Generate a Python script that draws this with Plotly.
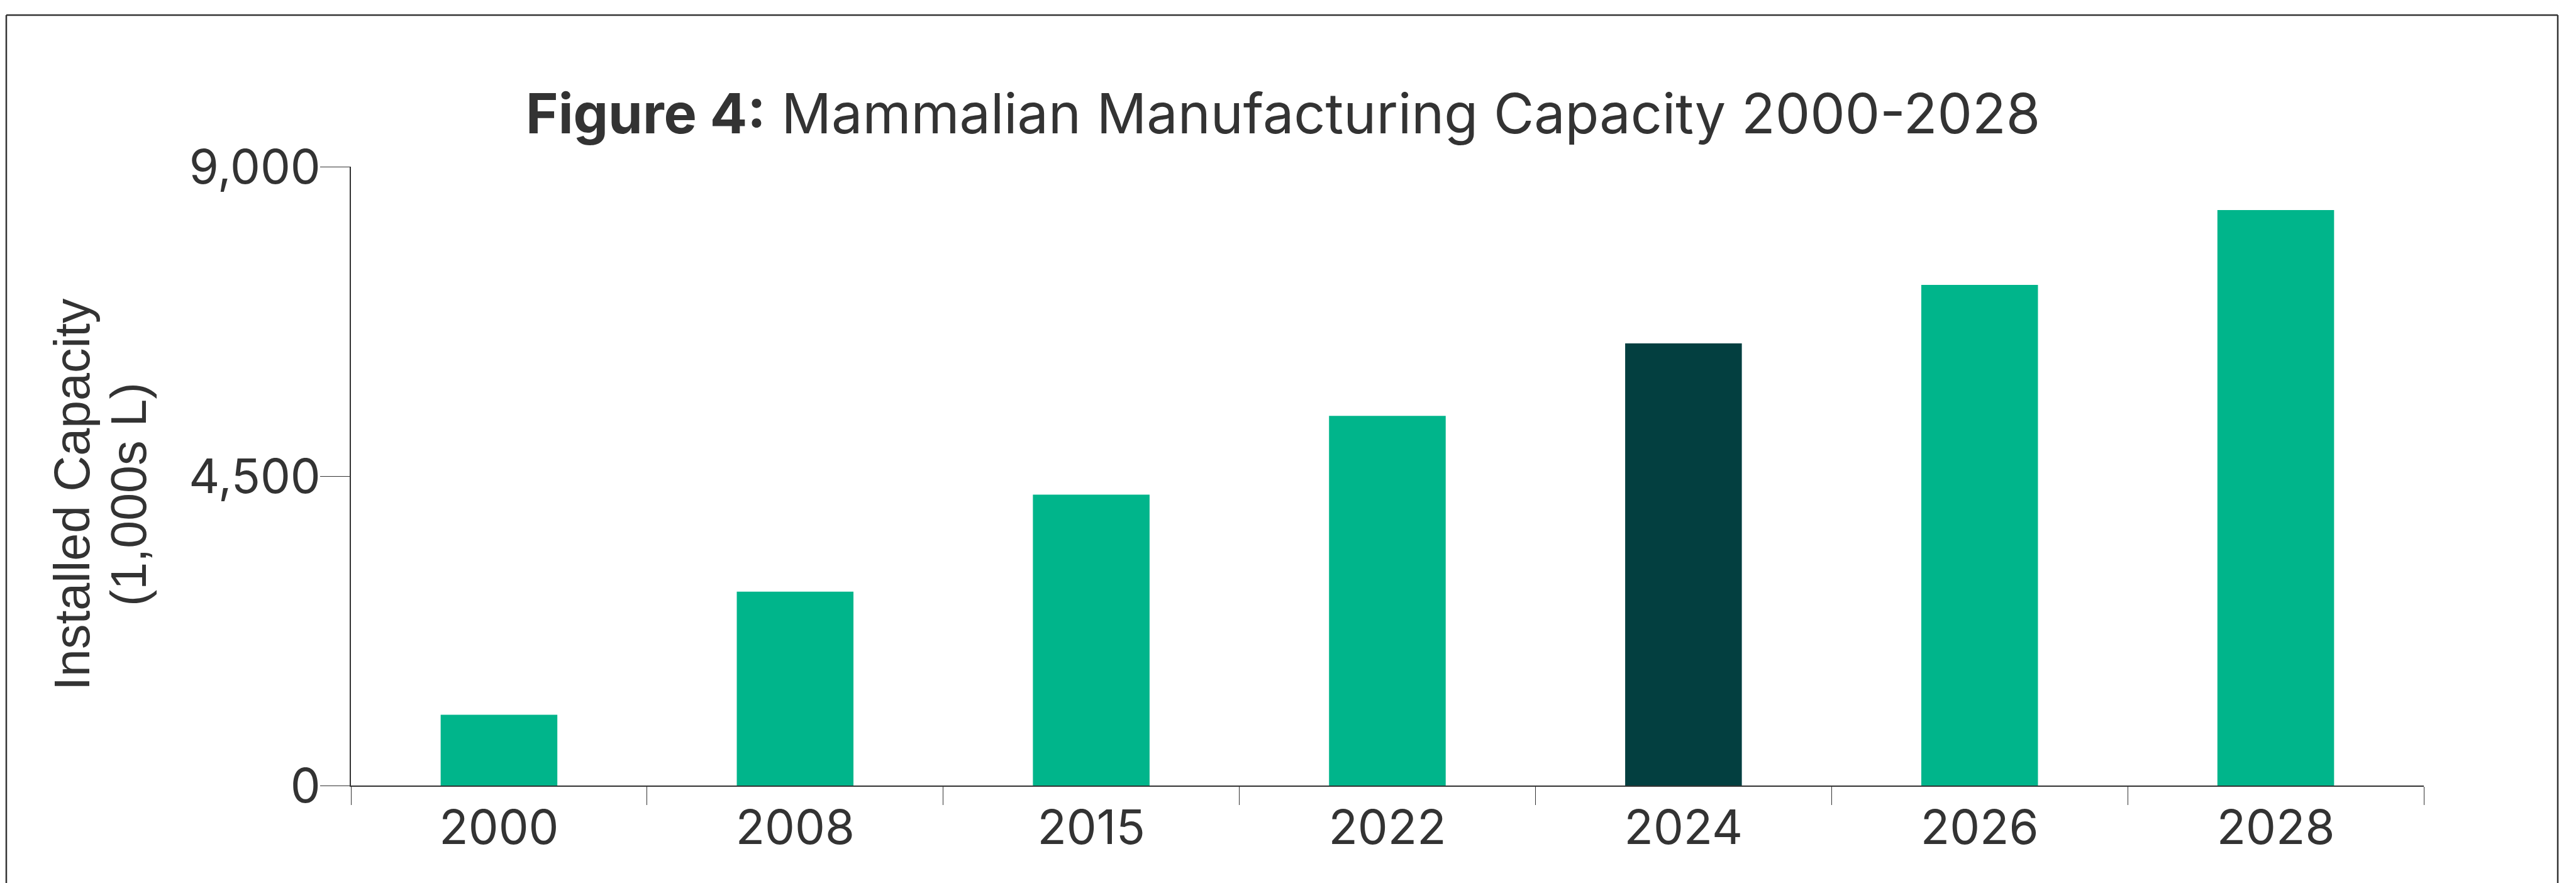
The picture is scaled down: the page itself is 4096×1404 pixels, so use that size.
import plotly.graph_objects as go

# Installed mammalian manufacturing capacity, thousands of litres
years = ["2000", "2008", "2015", "2022", "2024", "2026", "2028"]
capacity = [1030, 2820, 4230, 5375, 6430, 7280, 8370]
bar_colors = ["#00B58B", "#00B58B", "#00B58B", "#00B58B", "#033F40", "#00B58B", "#00B58B"]
y_ticks = [0, 4500, 9000]

W, H = 4096, 1404
ML, MR, MT, MB = 558, 242, 265, 155
PW, PH = W - ML - MR, H - MT - MB
TEXT = "#333333"


def px_x(p):
    return (p - ML) / PW


def px_y(p):
    return (H - MB - p) / PH


fig = go.Figure(
    go.Bar(
        x=years,
        y=capacity,
        marker=dict(color=bar_colors, line=dict(width=0)),
        hoverinfo="x+y",
    )
)

fig.update_layout(
    width=W,
    height=H,
    margin=dict(l=ML, r=MR, t=MT, b=MB, pad=0),
    paper_bgcolor="white",
    plot_bgcolor="white",
    showlegend=False,
    bargap=0.606,
    font=dict(family="Inter", color=TEXT, size=76),
)

fig.update_xaxes(
    type="category",
    showgrid=False,
    showline=True,
    linecolor=TEXT,
    linewidth=2.2,
    ticks="outside",
    tickson="boundaries",
    ticklen=29,
    tickwidth=1.4,
    tickcolor=TEXT,
    tickfont=dict(family="Inter", size=76, color=TEXT),
)

fig.update_yaxes(
    range=[0, 9000],
    tickvals=y_ticks,
    tickformat=",",
    showgrid=False,
    zeroline=False,
    showline=True,
    linecolor=TEXT,
    linewidth=2,
    ticks="outside",
    ticklen=47,
    tickwidth=1.4,
    tickcolor=TEXT,
    ticklabelstandoff=-16,
    tickfont=dict(family="Inter", size=76, color=TEXT),
)

# Title: bold figure number followed by the description
fig.add_annotation(
    xref="paper", yref="paper",
    x=px_x(W / 2 - 8), y=px_y(180),
    xanchor="center", yanchor="middle",
    text="<b>Figure 4:</b> Mammalian Manufacturing Capacity 2000-2028",
    showarrow=False,
    font=dict(family="Inter", size=88, color=TEXT),
)

# Two-line y-axis title
fig.add_annotation(
    xref="paper", yref="paper",
    x=px_x(114), y=px_y(786),
    xanchor="center", yanchor="middle",
    text="Installed Capacity",
    textangle=-90,
    showarrow=False,
    font=dict(family="Liberation Sans", size=79, color=TEXT),
)
fig.add_annotation(
    xref="paper", yref="paper",
    x=px_x(204), y=px_y(786),
    xanchor="center", yanchor="middle",
    text="(1,000s L)",
    textangle=-90,
    showarrow=False,
    font=dict(family="Liberation Sans", size=79, color=TEXT),
)

# Frame around the figure (open at the bottom edge of the page)
frame = dict(color=TEXT, width=2.5)
left, right, top, bottom = 10, 4067, 24, H + 20
for x0, y0, x1, y1 in [
    (left, top, right, top),
    (left, top, left, bottom),
    (right, top, right, bottom),
]:
    fig.add_shape(
        type="line", xref="paper", yref="paper",
        x0=px_x(x0), y0=px_y(y0), x1=px_x(x1), y1=px_y(y1),
        line=frame, layer="above",
    )

fig.write_html("out.html")
